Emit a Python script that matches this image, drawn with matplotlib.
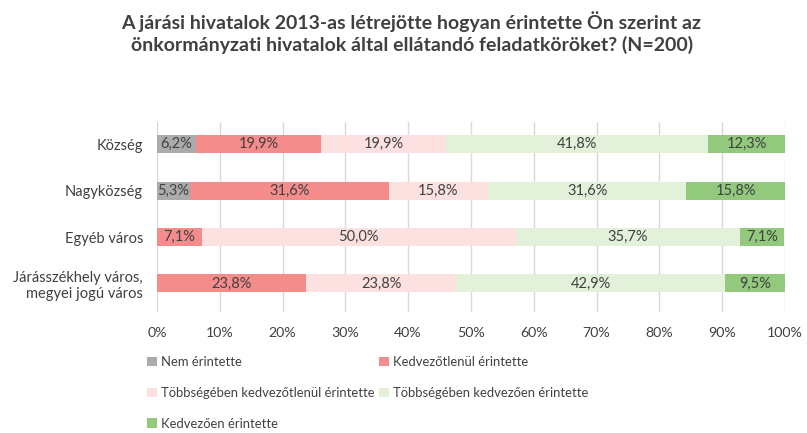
import matplotlib
matplotlib.use("Agg")
import matplotlib.pyplot as plt
import numpy as np

plt.rcParams['font.family'] = ['Lato', 'DejaVu Sans']

categories = ["Község", "Nagyközség", "Egyéb város", "Járásszékhely város,\nmegyei jogú város"]
series_names = ["Nem érintette", "Kedvezőtlenül érintette",
                "Többségében kedvezőtlenül érintette", "Többségében kedvezően érintette",
                "Kedvezően érintette"]
nem = [6.2, 5.3, 0.0, 0.0]
kedvezotlen = [19.9, 31.6, 7.1, 23.8]
tobb_kedvezotlen = [19.9, 15.8, 50.0, 23.8]
tobb_kedvezo = [41.8, 31.6, 35.7, 42.9]
kedvezo = [12.3, 15.8, 7.1, 9.5]
colors = ["#ABABAB", "#F58C8C", "#FDE1E1", "#E3F1DA", "#93C97D"]
title = "A járási hivatalok 2013-as létrejötte hogyan érintette Ön szerint az\nönkormányzati hivatalok által ellátandó feladatköröket? (N=200)"

series = [nem, kedvezotlen, tobb_kedvezotlen, tobb_kedvezo, kedvezo]
text_color = "#404040"

fig = plt.figure(figsize=(8.07, 4.33), dpi=100)
ax = fig.add_axes([0.1945, 0.279, 0.7782, 0.439])

y = np.arange(len(categories))
left = np.zeros(len(categories))
handles = []
for vals, name, col in zip(series, series_names, colors):
    vals = np.array(vals)
    h = ax.barh(y, vals, left=left, height=0.39, color=col, label=name, zorder=3)
    handles.append(h)
    for yi, (l, v) in enumerate(zip(left, vals)):
        if v > 0:
            ax.text(l + v / 2, yi, f"{v:.1f}%".replace(".", ","), ha="center", va="center",
                    fontsize=10.5, color=text_color, zorder=4)
    left = left + vals

ax.set_xlim(0, 100)
ax.set_ylim(3.62, -0.48)
ax.set_yticks(y)
ax.set_yticklabels(categories, fontsize=10.5, color=text_color)
ax.set_xticks(np.arange(0, 101, 10))
ax.set_xticklabels([f"{t}%" for t in range(0, 101, 10)], fontsize=10.2, color=text_color)
ax.tick_params(length=0, pad=10)
ax.tick_params(axis='x', pad=11)
ax.grid(axis='x', color="#D9D9D9", linewidth=1, zorder=0)
for s in ax.spines.values():
    s.set_visible(False)

fig.suptitle(title, x=0.51, y=0.975, fontsize=14, fontweight='bold', color="#404040", linespacing=1.25)

order = [0, 2, 4, 1, 3]
leg = fig.legend([handles[i] for i in order], [series_names[i] for i in order],
                 ncol=2, loc='upper left', bbox_to_anchor=(0.176, 0.19),
                 frameon=False, fontsize=9.4, handlelength=0.75, handleheight=0.75,
                 handletextpad=0.3, columnspacing=0.35, labelspacing=1.45,
                 borderaxespad=0)
for t in leg.get_texts():
    t.set_color(text_color)

fig.savefig("out.png", dpi=100)
